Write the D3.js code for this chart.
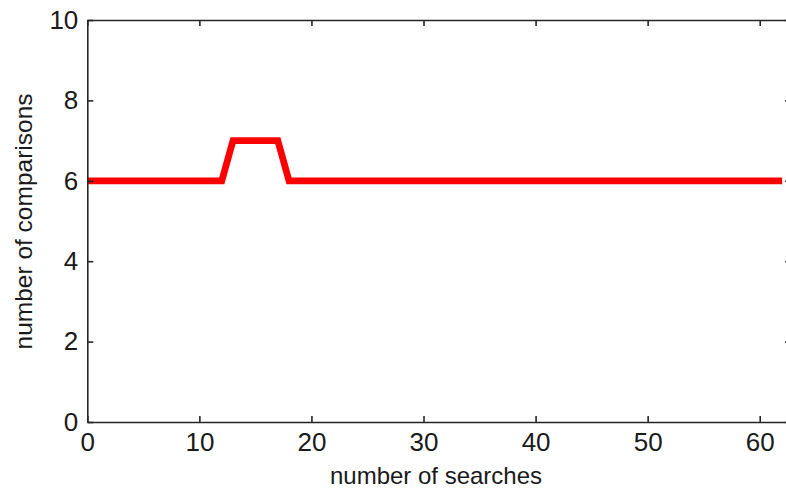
<!DOCTYPE html>
<html>
<head>
<meta charset="utf-8">
<script src="https://cdn.jsdelivr.net/npm/d3@7"></script>
<style>
  body { margin: 0; background: #fff; }
  text { font-family: "Liberation Sans", Arial, sans-serif; fill: #1a1a1a; }
</style>
</head>
<body>
<div id="chart"></div>
<script>
// searches 0..62 and comparisons per search
let searches = [0,1,2,3,4,5,6,7,8,9,10,11,12,13,14,15,16,17,18,19,20,
  21,22,23,24,25,26,27,28,29,30,31,32,33,34,35,36,37,38,39,40,
  41,42,43,44,45,46,47,48,49,50,51,52,53,54,55,56,57,58,59,60,61,62];
let comparisons = [6,6,6,6,6,6,6,6,6,6,6,6,6,7,7,7,7,7,6,6,6,
  6,6,6,6,6,6,6,6,6,6,6,6,6,6,6,6,6,6,6,6,
  6,6,6,6,6,6,6,6,6,6,6,6,6,6,6,6,6,6,6,6,6,6];
let xTicks = [0, 10, 20, 30, 40, 50, 60];
let yTicks = [0, 2, 4, 6, 8, 10];

let width = 786, height = 488;
let plotLeft = 87.3, plotTop = 20, plotBottom = 422;

let svg = d3.select("#chart").append("svg")
    .attr("width", width)
    .attr("height", height);

// x range runs past the right edge, the picture is cropped there
let x = d3.scaleLinear().domain([0, 62.8]).range([plotLeft, plotLeft + 62.8 * 11.207]);
let y = d3.scaleLinear().domain([0, 10]).range([plotBottom, plotTop]);

let line = d3.line()
    .x(function(d, i){ return x(searches[i]); })
    .y(function(d){ return y(d); });

svg.append("path")
    .datum(comparisons)
    .attr("d", line)
    .attr("fill", "none")
    .attr("stroke", "#ff0000")
    .attr("stroke-width", 6.8)
    .attr("stroke-linejoin", "miter");

// box + inward ticks
let axisColor = "#262626";
let bottomAxis = svg.append("g").attr("transform", "translate(0," + plotBottom + ")")
    .call(d3.axisBottom(x).tickValues(xTicks).tickSize(-6).tickPadding(11).tickSizeOuter(0));
let topAxis = svg.append("g").attr("transform", "translate(0," + plotTop + ")")
    .call(d3.axisTop(x).tickValues(xTicks).tickSize(-6).tickFormat("").tickSizeOuter(0));
let leftAxis = svg.append("g").attr("transform", "translate(" + plotLeft + ",0)")
    .call(d3.axisLeft(y).tickValues(yTicks).tickSize(-6).tickPadding(9).tickSizeOuter(0));
let rightAxis = svg.append("g").attr("transform", "translate(" + x(62.8) + ",0)")
    .call(d3.axisRight(y).tickValues(yTicks).tickSize(-6).tickFormat("").tickSizeOuter(0));

[bottomAxis, topAxis, leftAxis, rightAxis].forEach(function(g){
    g.selectAll("path, line").attr("stroke", axisColor).attr("stroke-width", 1.6);
    g.selectAll("text").style("font-size", "26px").attr("fill", "#1a1a1a")
        .style("font-family", "'Liberation Sans', Arial, sans-serif");
});

svg.append("text")
    .attr("x", 436)
    .attr("y", 484)
    .style("text-anchor", "middle")
    .style("font-size", "24px")
    .text("number of searches");

svg.append("text")
    .attr("transform", "translate(32,221.5) rotate(-90)")
    .style("text-anchor", "middle")
    .style("font-size", "24.5px")
    .text("number of comparisons");
</script>
</body>
</html>
